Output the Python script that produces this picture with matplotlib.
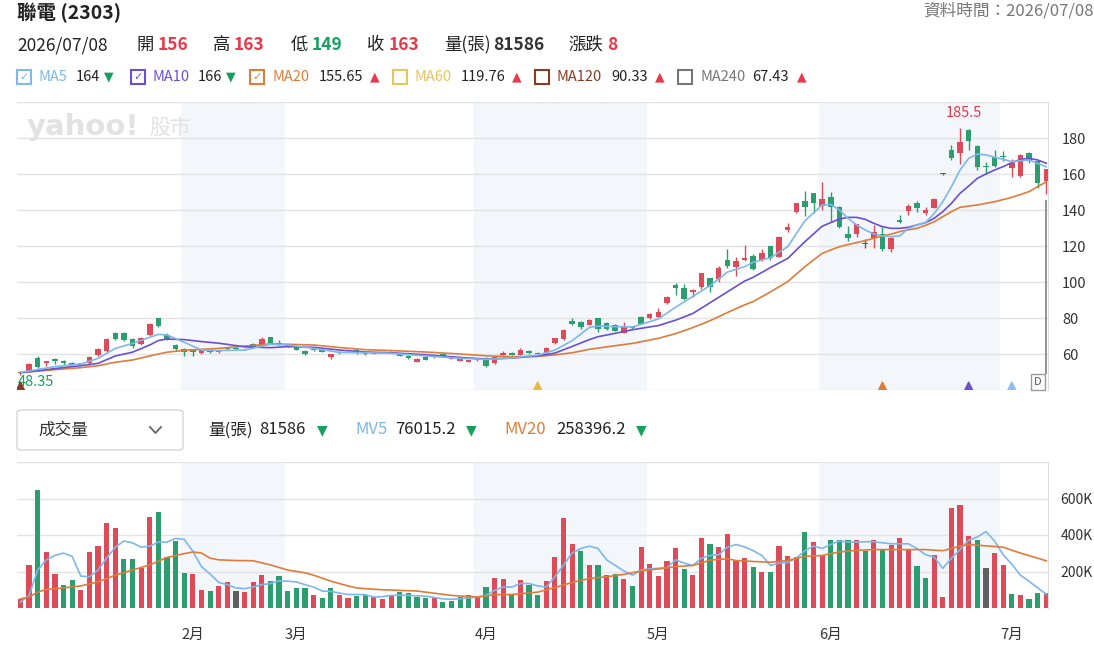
import numpy as np
import matplotlib
matplotlib.use('Agg')
import matplotlib.pyplot as plt
from matplotlib.patches import Rectangle, FancyBboxPatch
from matplotlib.lines import Line2D

plt.rcParams['font.family'] = ['Noto Sans CJK TC', 'DejaVu Sans']

# ---- daily candles (120 trading days, oldest first) ----
opens = [
    49.4, 50.7, 57.6, 55.2, 57.2, 56.1, 55.2, 54.4, 54.8, 59.4,
    61.9, 71.5, 71.9, 68.1, 65.6, 70.6, 79.8, 70.6, 65.2, 62.6,
    62.6, 60.4, 61.5, 61.1, 63.7, 63.5, 62.6, 65.4, 64.6, 69.3,
    66.1, 64.3, 64.4, 61.7, 62.6, 62.2, 58.1, 61.1, 61.8, 62.2,
    60.7, 60.2, 60.7, 60.9, 60.4, 58.9, 55.7, 58.5, 58.1, 60.0,
    57.2, 56.3, 55.6, 56.5, 57.2, 54.8, 59.4, 60.7, 59.4, 61.7,
    60.7, 60.4, 65.9, 68.1, 78.3, 78.0, 76.1, 79.8, 77.4, 76.1,
    71.9, 75.2, 80.7, 79.8, 80.7, 88.1, 98.3, 96.5, 94.6, 97.0,
    102.0, 101.5, 112.2, 108.5, 112.2, 114.4, 112.2, 119.8, 114.1, 128.9,
    139.1, 145.2, 149.3, 142.2, 147.0, 141.9, 126.6, 126.6, 121.3, 124.3,
    126.5, 118.2, 134.4, 139.6, 143.9, 138.1, 141.2, 160.0, 173.3, 171.5,
    184.2, 175.4, 164.6, 169.4, 170.0, 163.6, 158.9, 171.9, 167.0, 156.0]
highs = [
    50.6, 55.0, 58.9, 56.3, 57.6, 56.9, 55.6, 55.2, 58.9, 63.1,
    68.9, 72.0, 72.2, 68.9, 69.6, 77.0, 80.2, 71.5, 65.6, 63.1,
    62.8, 62.4, 62.0, 62.4, 64.0, 63.8, 63.3, 65.9, 69.6, 69.6,
    67.6, 65.2, 64.8, 62.0, 63.0, 62.4, 60.2, 61.5, 62.4, 62.6,
    61.1, 60.9, 61.3, 61.6, 60.8, 59.2, 57.8, 58.8, 59.6, 60.2,
    58.3, 57.4, 56.9, 57.6, 58.1, 58.7, 61.9, 61.1, 63.1, 62.0,
    61.0, 64.0, 68.9, 73.9, 79.8, 78.3, 79.6, 80.2, 77.8, 76.5,
    78.0, 75.6, 81.0, 83.0, 85.4, 92.2, 99.3, 98.9, 95.9, 105.2,
    102.4, 109.0, 118.1, 113.7, 120.6, 115.6, 118.3, 120.2, 125.6, 133.0,
    144.1, 150.7, 149.6, 155.5, 150.0, 142.5, 131.2, 132.5, 124.0, 131.5,
    130.4, 125.0, 137.2, 143.3, 145.0, 141.5, 146.4, 160.3, 176.1, 185.5,
    185.1, 176.3, 166.9, 173.3, 172.7, 168.1, 171.0, 172.4, 167.8, 163.0]
lows = [
    48.35, 50.5, 52.0, 53.5, 54.6, 53.9, 53.3, 54.2, 53.9, 58.9,
    61.3, 67.8, 67.5, 63.1, 65.2, 70.0, 75.0, 68.0, 61.5, 58.9,
    58.9, 60.2, 60.8, 60.6, 62.4, 62.4, 62.4, 63.3, 64.0, 65.5,
    65.2, 64.0, 62.0, 59.5, 61.7, 60.9, 57.4, 60.2, 61.5, 60.2,
    59.4, 59.8, 60.5, 60.6, 58.7, 57.4, 55.4, 56.5, 57.9, 58.7,
    57.0, 56.1, 55.4, 56.3, 53.0, 54.6, 59.2, 59.2, 59.2, 60.2,
    59.6, 60.2, 65.6, 67.8, 76.1, 73.9, 75.9, 72.4, 73.5, 72.6,
    71.7, 74.1, 76.5, 79.6, 80.5, 87.8, 92.8, 90.0, 91.9, 95.9,
    94.6, 100.0, 108.0, 103.3, 111.9, 106.6, 111.5, 112.0, 113.7, 128.0,
    138.1, 136.9, 138.1, 140.0, 133.5, 130.0, 122.8, 125.0, 118.9, 118.7,
    117.4, 116.4, 132.6, 137.0, 139.1, 137.2, 140.9, 159.7, 167.6, 165.6,
    173.1, 162.2, 160.2, 163.9, 167.4, 158.3, 158.5, 165.9, 152.0, 149.0]
closes = [
    49.8, 54.6, 53.0, 55.9, 56.0, 54.8, 54.0, 54.9, 58.5, 62.6,
    68.1, 68.3, 67.8, 64.4, 69.1, 76.7, 75.6, 68.3, 62.6, 61.1,
    61.3, 62.2, 61.1, 62.2, 62.6, 62.6, 63.0, 63.5, 68.3, 65.9,
    65.7, 65.0, 62.2, 59.8, 62.0, 61.3, 59.8, 60.4, 62.0, 60.4,
    59.8, 60.6, 61.0, 61.3, 58.9, 57.6, 57.4, 56.7, 59.4, 58.9,
    58.1, 57.2, 56.7, 57.2, 53.5, 58.3, 60.7, 59.4, 62.2, 60.4,
    59.8, 63.1, 68.7, 73.5, 76.7, 75.2, 78.9, 73.7, 73.9, 72.8,
    74.8, 74.3, 76.7, 82.2, 83.5, 91.9, 96.5, 90.4, 95.6, 104.8,
    97.0, 108.0, 108.9, 111.5, 113.1, 107.2, 115.9, 113.5, 125.2, 130.7,
    143.7, 141.5, 143.9, 146.1, 141.9, 130.4, 124.2, 132.0, 121.3, 128.0,
    118.1, 124.5, 133.5, 142.0, 140.9, 140.0, 145.9, 160.0, 169.1, 178.0,
    178.5, 164.0, 164.0, 164.3, 169.3, 165.9, 170.6, 167.5, 155.0, 163.0]

# volume in thousands of lots, colour by change vs previous close
volumes = [
    50, 233, 649, 307, 186, 127, 153, 99, 307, 339,
    467, 441, 266, 266, 221, 500, 528, 277, 367, 193,
    186, 99, 93, 121, 140, 93, 87, 140, 180, 149,
    173, 93, 112, 112, 73, 54, 112, 73, 54, 65,
    69, 60, 47, 65, 86, 80, 60, 54, 54, 32,
    39, 60, 73, 60, 113, 166, 160, 73, 153, 127,
    73, 147, 281, 493, 348, 314, 233, 233, 180, 186,
    160, 119, 333, 240, 173, 255, 327, 214, 180, 381,
    348, 333, 407, 259, 273, 227, 199, 199, 339, 287,
    279, 417, 361, 287, 372, 372, 372, 372, 311, 372,
    326, 344, 385, 326, 231, 166, 292, 63, 547, 562,
    393, 372, 218, 300, 238, 76, 71, 50, 84, 81.586]
vol_dir = ("rrgrrggrrr" "rrggrrgggg" "rrgrrkrrrg" "ggggrggrrg"
           "grrrggggrg" "gggrgrrgrg" "grrrrgrgrg" "rgrrrrrgrr"
           "grrrrgrgrr" "rgrrgggrgr" "grrrggrrrr" "rgkrrgrggr")

# moving averages (bar numbers are 1-based)
ma_bars = [1, 5, 8, 10, 12, 14, 16, 17, 18, 20, 22, 24, 27, 30, 32, 35, 38, 41, 44, 48,
           52, 55, 58, 61, 63, 65, 67, 68, 70, 72, 75, 77, 79, 81, 83, 85, 86, 88, 90, 92,
           94, 95, 96, 97, 98, 99, 100, 101, 102, 103, 104, 105, 106, 107, 108, 109, 110,
           111, 112, 113, 114, 115, 116, 117, 118, 119, 120]
ma5 = [49.8, 53.0, 54.4, 57.6, 63.1, 65.9, 69.3, 70.9, 70.6, 66.5,
       62.2, 61.9, 62.2, 65.4, 65.0, 63.1, 60.9, 60.7, 60.4, 58.9,
       57.6, 57.0, 57.8, 59.4, 62.2, 67.4, 74.8, 75.5, 75.2, 75.0,
       79.5, 86.0, 92.0, 98.0, 105.5, 108.5, 111.0, 113.5, 119.6, 134.0,
       142.8, 143.1, 140.0, 135.4, 131.7, 128.9, 126.7, 125.6, 125.2, 125.6,
       129.8, 131.7, 133.0, 138.1, 144.6, 153.0, 162.2, 168.7, 171.1, 170.6,
       169.3, 168.1, 166.9, 167.4, 167.8, 165.9, 164.0]
ma10 = [49.6, 51.9, 53.5, 54.8, 58.9, 61.0, 65.0, 67.5, 68.3, 68.0,
        66.9, 66.0, 64.0, 63.5, 64.1, 63.7, 62.2, 61.1, 60.7, 59.6,
        58.1, 57.2, 57.7, 58.9, 60.5, 64.2, 68.0, 69.6, 71.5, 73.5,
        75.8, 78.8, 82.5, 88.5, 94.5, 100.5, 102.6, 108.0, 113.1, 122.4,
        131.0, 133.0, 135.0, 135.9, 135.9, 134.8, 132.6, 130.7, 129.8, 129.8,
        130.4, 131.7, 133.0, 135.4, 139.1, 143.7, 149.3, 153.3, 157.6, 160.0,
        162.2, 164.1, 166.3, 168.1, 168.7, 167.8, 166.0]
ma20 = [49.6, 51.3, 52.4, 53.5, 55.4, 56.7, 58.9, 60.0, 61.0, 62.0,
        62.6, 63.1, 64.4, 65.6, 65.4, 65.0, 63.6, 62.4, 61.9, 61.1,
        60.0, 59.0, 58.5, 58.7, 59.5, 60.7, 62.6, 63.3, 64.6, 65.9,
        68.7, 71.3, 74.7, 78.5, 83.0, 87.3, 89.1, 94.5, 100.2, 108.5,
        115.9, 117.8, 119.6, 120.8, 121.9, 123.0, 124.3, 125.5, 126.6, 128.0,
        129.0, 129.8, 131.5, 133.5, 136.3, 139.1, 141.5, 142.2, 142.8, 143.7,
        144.6, 145.8, 147.0, 148.6, 150.2, 153.0, 155.65]

mv5 = [32, 69, 208, 264, 288, 301, 283, 175, 171, 208,
       273, 333, 367, 357, 333, 339, 361, 361, 381, 376,
       311, 227, 186, 140, 128, 110, 106, 115, 128, 134,
       149, 147, 143, 128, 115, 93, 91, 82, 74, 74,
       73, 60, 62, 69, 70, 69, 67, 65, 58, 50,
       48, 50, 56, 60, 69, 97, 115, 115, 134, 134,
       121, 115, 171, 236, 301, 326, 339, 326, 264, 233,
       203, 180, 208, 214, 218, 221, 264, 246, 233, 273,
       288, 292, 333, 348, 335, 314, 288, 233, 246, 249,
       273, 314, 339, 326, 348, 367, 361, 361, 363, 363,
       357, 352, 352, 352, 326, 292, 279, 218, 273, 320,
       372, 389, 419, 367, 292, 240, 180, 147, 110, 76.0152]
mv20_bars = [1, 2, 3, 4, 6, 8, 10, 12, 14, 16, 18, 20, 21, 22, 23, 24, 26, 28, 30, 32,
             34, 35, 37, 39, 40, 41, 43, 47, 51, 54, 56, 58, 61, 63, 65, 67, 69, 71, 73, 75,
             77, 79, 81, 83, 84, 86, 88, 90, 92, 94, 96, 98, 100, 102, 104, 106, 108, 110,
             111, 112, 114, 115, 117, 119, 120]
mv20 = [50, 60, 87, 102, 110, 121, 143, 180, 208, 236, 277, 298, 307, 301, 273, 264, 260, 259, 236, 208,
        193, 180, 147, 121, 110, 106, 100, 93, 69, 60, 73, 74, 87, 112, 140, 162, 171, 184, 203, 214,
        227, 233, 262, 270, 260, 255, 251, 260, 283, 288, 307, 316, 320, 320, 320, 320, 314, 339,
        348, 344, 337, 333, 301, 273, 258.3962]

month_names = ['2月', '3月', '4月', '5月', '6月', '7月']
month_first = [19, 31, 53, 73, 93, 114]   # 0-based first bar of each month

# signal triangles on the bottom of the price panel (0-based bar, line colour)
signal_bars = [0, 60, 100, 110, 115]
signal_cols = ['#8b3a24', '#e8b93c', '#e07b39', '#6a4fd4', '#8cc0f0']

RED, GREEN, GREY = '#dd4b58', '#2b9d6f', '#5f5f5f'
TRED, TGREEN = '#e8394a', '#16a05d'
C5, C10, C20, C60, C120, C240 = '#7db7ec', '#6a4fd4', '#e07b39', '#e8c25a', '#8b3a24', '#777777'

W, H = 1094, 646
fig = plt.figure(figsize=(W / 100, H / 100), dpi=100)


def put(x, y, s, color='#222222', size=12.5, weight='normal', ha='left', **kw):
    fig.text(x / W, 1 - y / H, s, color=color, fontsize=size, fontweight=weight,
             ha=ha, va='center', **kw)


ax = fig.add_axes([17 / W, 1 - 390 / H, 1031 / W, 288 / H])
axv = fig.add_axes([17 / W, 1 - 608 / H, 1031 / W, 146 / H])

x = np.arange(len(closes))
o, h, l, c = map(np.array, (opens, highs, lows, closes))
cc = np.where(c > o, RED, np.where(c < o, GREEN, GREY))

for a in (ax, axv):
    a.set_xlim(-0.4, len(closes) - 0.8)
    for k in (0, 2, 4):
        a.axvspan(month_first[k] - 0.35, month_first[k + 1] - 0.35, color='#f3f6fa', zorder=0, lw=0)
    a.grid(axis='y', color='#e3e3e3', lw=1, zorder=0.5)
    a.set_axisbelow(True)
    for s in ('left', 'top', 'bottom'):
        a.spines[s].set_visible(False)
    a.spines['right'].set_color('#dddddd')
    a.yaxis.tick_right()
    a.tick_params(axis='y', length=0, pad=10, labelsize=10.5, labelcolor='#333333')

# price panel
ax.vlines(x, l, h, colors=cc, lw=1, zorder=2)
ax.bar(x, np.maximum(np.abs(c - o), 0.35), bottom=np.minimum(o, c), width=0.64,
       color=cc, zorder=3)
mb = np.array(ma_bars) - 1
ax.plot(mb, ma20, color=C20, lw=1.2, zorder=4)
ax.plot(mb, ma10, color=C10, lw=1.2, zorder=4)
ax.plot(mb, ma5, color=C5, lw=1.2, zorder=4)
ax.set_ylim(40, 200)
ax.set_yticks(range(40, 201, 20))
ax.set_yticklabels([''] + [str(v) for v in range(60, 181, 20)] + [''])
ax.set_xticks([])

imax = int(np.argmax(h))
ax.annotate(f'{h[imax]}', xy=(imax, h[imax]), xytext=(3, 6), textcoords='offset points',
            ha='center', va='bottom', color=TRED, fontsize=10.5)
imin = int(np.argmin(l))
ax.text(imin - 0.35, 44.4, f'{l[imin]}', color=TGREEN, fontsize=10.5, ha='left', va='center')
ax.scatter(signal_bars, [42.0] * len(signal_bars), marker='^', s=38, c=signal_cols, zorder=5)
ax.vlines(x[-1], 49, 145.5, colors='#8a8a8a', lw=1.3, zorder=2)
ax.text(x[-1] - 0.95, 44.4, 'D', fontsize=8, color='#555555', ha='center', va='center',
        bbox=dict(boxstyle='square,pad=0.3', fc='white', ec='#999999', lw=1), zorder=6)

# volume panel
vc = [{'r': RED, 'g': GREEN, 'k': GREY}[d] for d in vol_dir]
axv.bar(x, volumes, width=0.6, color=vc, zorder=2)
axv.plot(x, mv5, color=C5, lw=1.2, zorder=3)
axv.plot(np.array(mv20_bars) - 1, mv20, color=C20, lw=1.2, zorder=3)
axv.set_ylim(0, 800)
axv.set_yticks([0, 200, 400, 600, 800])
axv.set_yticklabels(['', '200K', '400K', '600K', ''])
axv.tick_params(axis='y', labelsize=10, pad=9)
axv.set_xticks([m + 1 for m in month_first])
axv.set_xticklabels(month_names)
axv.tick_params(axis='x', length=0, pad=14, labelsize=10.5, labelcolor='#333333')

# watermark
put(27, 127, 'yahoo!', color='#e2e2e2', size=21, weight='heavy', family='DejaVu Sans')
put(149, 128, '股市', color='#e2e2e2', size=15)

# header
put(17, 13, '聯電 (2303)', size=14, weight='bold')
put(1094, 11, '資料時間：2026/07/08', color='#777777', size=12, ha='right')
put(17, 45, '2026/07/08')
for lab, lx, val, vx, col in [('開', 137, '156', 158, TRED), ('高', 213, '163', 234, TRED),
                              ('低', 291, '149', 312, TGREEN), ('收', 367, '163', 389, TRED),
                              ('量(張)', 444, '81586', 493, '#333333'), ('漲跌', 568, '8', 607, TRED)]:
    put(lx, 45, lab)
    put(vx, 45, val, color=col, weight='bold')

# MA legend
legend = [(17, 'MA5', C5, '164', 76, '▼', 104, True),
          (131, 'MA10', C10, '166', 198, '▼', 226, True),
          (250, 'MA20', C20, '155.65', 319, '▲', 370, True),
          (393, 'MA60', C60, '119.76', 461, '▲', 512, False),
          (535, 'MA120', C120, '90.33', 611, '▲', 655, False),
          (678, 'MA240', C240, '67.43', 752, '▲', 797, False)]
for bx, name, col, val, vx, arrow, axp, checked in legend:
    fig.patches.append(Rectangle((bx / W, 1 - 84 / H), 14 / W, 14 / H, transform=fig.transFigure,
                                 fill=False, ec=col, lw=1.5))
    if checked:
        put(bx + 7, 77, '✓', color=col, size=8, ha='center', family='DejaVu Sans')
    put(bx + 22, 77, name, color=col, size=10.5)
    put(vx, 77, val, size=10.5)
    put(axp, 77, arrow, color=TGREEN if arrow == '▼' else TRED, size=9, family='DejaVu Sans')

# volume header
fig.patches.append(FancyBboxPatch((17 / W, 1 - 450 / H), 166 / W, 40 / H,
                                  boxstyle='round,pad=0,rounding_size=0.004',
                                  transform=fig.transFigure, fc='white', ec='#d6d6d6', lw=1))
put(38, 430, '成交量', color='#333333', size=12)
fig.lines.append(Line2D([150 / W, 155.5 / W, 161 / W], [1 - 427 / H, 1 - 433 / H, 1 - 427 / H],
                        transform=fig.transFigure, color='#666666', lw=1.3))
put(208, 430, '量(張)', size=12)
put(259, 430, '81586', size=12)
put(317, 430, '▼', color=TGREEN, size=10, family='DejaVu Sans')
put(355, 430, 'MV5', color=C5, size=12)
put(395, 430, '76015.2', size=12)
put(466, 430, '▼', color=TGREEN, size=10, family='DejaVu Sans')
put(504, 430, 'MV20', color=C20, size=12)
put(556, 430, '258396.2', size=12)
put(636, 430, '▼', color=TGREEN, size=10, family='DejaVu Sans')

fig.savefig('out.png', dpi=100, facecolor='white')
